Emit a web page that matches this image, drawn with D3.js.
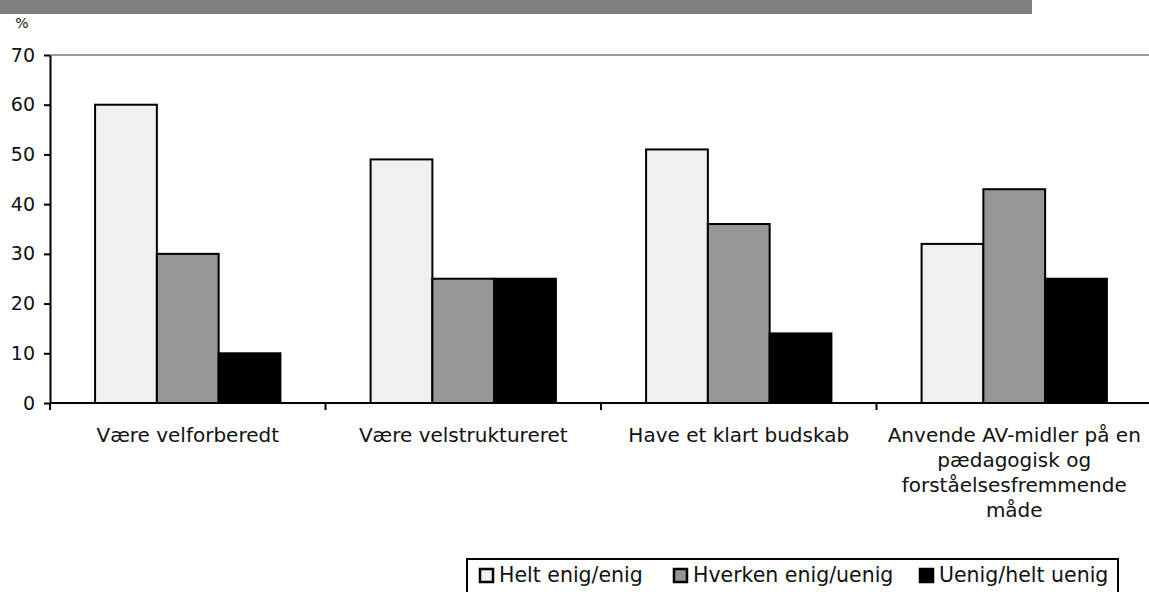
<!DOCTYPE html>
<html>
<head>
<meta charset="utf-8">
<script src="https://cdn.jsdelivr.net/npm/d3@7"></script>
<style>
  body { margin: 0; background: #fff; }
  svg { display: block; font-family: "DejaVu Sans", sans-serif; }
</style>
</head>
<body>
<svg id="chart" width="1149" height="592"></svg>
<script>
// data
const categories = [
  ["Være velforberedt"],
  ["Være velstruktureret"],
  ["Have et klart budskab"],
  ["Anvende AV-midler på en", "pædagogisk og", "forståelsesfremmende", "måde"]
];
const series = ["Helt enig/enig", "Hverken enig/uenig", "Uenig/helt uenig"];
const helt_enig = [60, 49, 51, 32];
const hverken = [30, 25, 36, 43];
const uenig = [10, 25, 14, 25];
const yTicks = [0, 10, 20, 30, 40, 50, 60, 70];

const COLORS = ["#f0f0f0", "#969696", "#000000"];

const $svg = d3.select('#chart');
const values = [helt_enig, hverken, uenig];

const X0 = 50, X1 = 1152, Y0 = 403, Y1 = 55;

const x = d3.scaleBand().domain(d3.range(categories.length)).range([X0, X1]);
const xi = d3.scaleBand().domain(d3.range(series.length)).range([0, x.bandwidth()]).paddingOuter(0.73);
const y = d3.scaleLinear().domain([0, 70]).range([Y0, Y1]);

// header bar (cut at top)
$svg.append('rect').attr('x', 0).attr('y', 0).attr('width', 1032).attr('height', 14).attr('fill', '#808080');

// "%" label
$svg.append('text').attr('x', 22).attr('y', 28).attr('text-anchor', 'middle')
  .attr('font-size', 14).attr('fill', '#111').text('%');

// top border of plot area
$svg.append('line').attr('x1', X0).attr('x2', 1149).attr('y1', Y1).attr('y2', Y1)
  .attr('stroke', '#999').attr('stroke-width', 2);

// bars
const data = [];
categories.forEach((c, i) => series.forEach((s, j) => data.push({ i, j, v: values[j][i] })));

$svg.append('g').selectAll('rect')
  .data(data)
  .enter()
  .append('rect')
  .attr('x', d => x(d.i) + xi(d.j))
  .attr('y', d => y(d.v))
  .attr('width', xi.bandwidth())
  .attr('height', d => Y0 - y(d.v))
  .attr('fill', d => COLORS[d.j])
  .attr('stroke', '#000')
  .attr('stroke-width', 2);

// y axis
const yAxis = d3.axisLeft(y).tickValues(yTicks).tickSize(6).tickPadding(9).tickSizeOuter(0);
const $ya = $svg.append('g').attr('transform', `translate(${X0},0)`).call(yAxis);
$ya.select('.domain').attr('stroke-width', 2);
$ya.selectAll('.tick line').attr('stroke-width', 2);
$ya.selectAll('text').attr('font-size', 19).attr('font-family', '"DejaVu Sans", sans-serif').attr('fill', '#111');

// x axis: line + ticks at category boundaries
$svg.append('line').attr('x1', X0).attr('x2', 1149).attr('y1', Y0).attr('y2', Y0)
  .attr('stroke', '#000').attr('stroke-width', 2);
$svg.append('g').selectAll('line')
  .data(d3.range(categories.length + 1))
  .enter()
  .append('line')
  .attr('x1', d => d < categories.length ? x(d) : X1)
  .attr('x2', d => d < categories.length ? x(d) : X1)
  .attr('y1', Y0).attr('y2', Y0 + 7)
  .attr('stroke', '#000').attr('stroke-width', 2);

// category labels
const $lab = $svg.append('g').selectAll('text')
  .data(categories)
  .enter()
  .append('text')
  .attr('x', (d, i) => x(i) + x.bandwidth() / 2)
  .attr('y', 442)
  .attr('text-anchor', 'middle')
  .attr('font-size', 20)
  .attr('fill', '#111');
$lab.selectAll('tspan')
  .data((d, i) => d.map(t => ({ t, cx: x(i) + x.bandwidth() / 2 })))
  .enter()
  .append('tspan')
  .attr('x', d => d.cx)
  .attr('dy', (d, k) => k === 0 ? 0 : 25)
  .text(d => d.t);

// legend
const $leg = $svg.append('g');
$leg.append('rect').attr('x', 467).attr('y', 559).attr('width', 651).attr('height', 45)
  .attr('fill', '#fff').attr('stroke', '#000').attr('stroke-width', 2);
const legX = [479, 673, 919];
const $item = $leg.selectAll('g.item')
  .data(series)
  .enter()
  .append('g')
  .attr('transform', (d, i) => `translate(${legX[i]},568)`);
$item.append('rect').attr('x', 1).attr('y', 1).attr('width', 13).attr('height', 13)
  .attr('fill', (d, i) => COLORS[i]).attr('stroke', '#000').attr('stroke-width', 2.5);
$item.append('text').attr('x', 20).attr('y', 14).attr('font-size', 20.5).attr('fill', '#111').text(d => d);
</script>
</body>
</html>
